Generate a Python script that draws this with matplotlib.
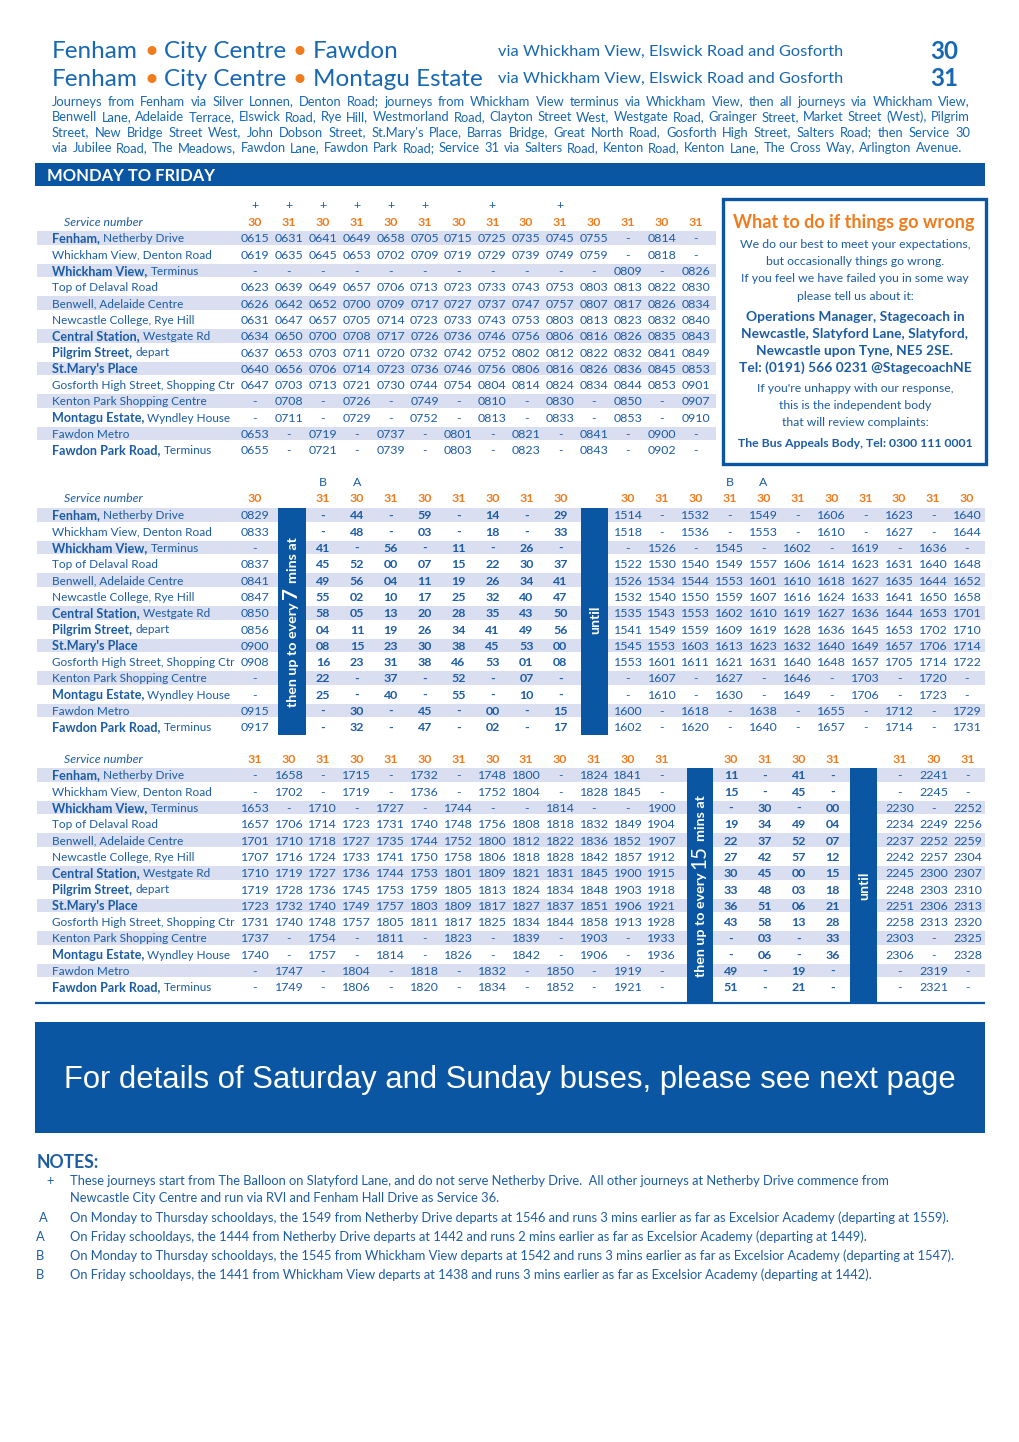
import matplotlib
matplotlib.use("Agg")
import matplotlib.pyplot as plt
from matplotlib.patches import Rectangle

FONT = "Lato"
BLUE = "#1c5ca5"
HEAD = "#1767b3"
ORANGE = "#f07c1e"
STRIPE = "#d9dff0"
BAND = "#0b56a2"

# ---------------- data ----------------
stops = [
    ("Fenham,", "Netherby Drive"),
    ("", "Whickham View, Denton Road"),
    ("Whickham View,", "Terminus"),
    ("", "Top of Delaval Road"),
    ("", "Benwell, Adelaide Centre"),
    ("", "Newcastle College, Rye Hill"),
    ("Central Station,", "Westgate Rd"),
    ("Pilgrim Street,", "depart"),
    ("St.Mary's Place", ""),
    ("", "Gosforth High Street, Shopping Ctr"),
    ("", "Kenton Park Shopping Centre"),
    ("Montagu Estate,", "Wyndley House"),
    ("", "Fawdon Metro"),
    ("Fawdon Park Road,", "Terminus"),
]

t1_services = [30, 31, 30, 31, 30, 31, 30, 31, 30, 31, 30, 31, 30, 31]
t1_marks = ["+", "+", "+", "+", "+", "+", "", "+", "", "+", "", "", "", ""]
t1_times = [
    "0615 0631 0641 0649 0658 0705 0715 0725 0735 0745 0755 - 0814 -",
    "0619 0635 0645 0653 0702 0709 0719 0729 0739 0749 0759 - 0818 -",
    "- - - - - - - - - - - 0809 - 0826",
    "0623 0639 0649 0657 0706 0713 0723 0733 0743 0753 0803 0813 0822 0830",
    "0626 0642 0652 0700 0709 0717 0727 0737 0747 0757 0807 0817 0826 0834",
    "0631 0647 0657 0705 0714 0723 0733 0743 0753 0803 0813 0823 0832 0840",
    "0634 0650 0700 0708 0717 0726 0736 0746 0756 0806 0816 0826 0835 0843",
    "0637 0653 0703 0711 0720 0732 0742 0752 0802 0812 0822 0832 0841 0849",
    "0640 0656 0706 0714 0723 0736 0746 0756 0806 0816 0826 0836 0845 0853",
    "0647 0703 0713 0721 0730 0744 0754 0804 0814 0824 0834 0844 0853 0901",
    "- 0708 - 0726 - 0749 - 0810 - 0830 - 0850 - 0907",
    "- 0711 - 0729 - 0752 - 0813 - 0833 - 0853 - 0910",
    "0653 - 0719 - 0737 - 0801 - 0821 - 0841 - 0900 -",
    "0655 - 0721 - 0739 - 0803 - 0823 - 0843 - 0902 -",
]

t2_services_a = [30]
t2_times_a = ["0829", "0833", "-", "0837", "0841", "0847", "0850",
              "0856", "0900", "0908", "-", "-", "0915", "0917"]
t2_services_b = [31, 30, 31, 30, 31, 30, 31, 30]
t2_marks_b = ["B", "A", "", "", "", "", "", ""]
t2_mins = [
    "- 44 - 59 - 14 - 29",
    "- 48 - 03 - 18 - 33",
    "41 - 56 - 11 - 26 -",
    "45 52 00 07 15 22 30 37",
    "49 56 04 11 19 26 34 41",
    "55 02 10 17 25 32 40 47",
    "58 05 13 20 28 35 43 50",
    "04 11 19 26 34 41 49 56",
    "08 15 23 30 38 45 53 00",
    "16 23 31 38 46 53 01 08",
    "22 - 37 - 52 - 07 -",
    "25 - 40 - 55 - 10 -",
    "- 30 - 45 - 00 - 15",
    "- 32 - 47 - 02 - 17",
]
t2_services_c = [30, 31, 30, 31, 30, 31, 30, 31, 30, 31, 30]
t2_marks_c = ["", "", "", "B", "A", "", "", "", "", "", ""]
t2_times_c = [
    "1514 - 1532 - 1549 - 1606 - 1623 - 1640",
    "1518 - 1536 - 1553 - 1610 - 1627 - 1644",
    "- 1526 - 1545 - 1602 - 1619 - 1636 -",
    "1522 1530 1540 1549 1557 1606 1614 1623 1631 1640 1648",
    "1526 1534 1544 1553 1601 1610 1618 1627 1635 1644 1652",
    "1532 1540 1550 1559 1607 1616 1624 1633 1641 1650 1658",
    "1535 1543 1553 1602 1610 1619 1627 1636 1644 1653 1701",
    "1541 1549 1559 1609 1619 1628 1636 1645 1653 1702 1710",
    "1545 1553 1603 1613 1623 1632 1640 1649 1657 1706 1714",
    "1553 1601 1611 1621 1631 1640 1648 1657 1705 1714 1722",
    "- 1607 - 1627 - 1646 - 1703 - 1720 -",
    "- 1610 - 1630 - 1649 - 1706 - 1723 -",
    "1600 - 1618 - 1638 - 1655 - 1712 - 1729",
    "1602 - 1620 - 1640 - 1657 - 1714 - 1731",
]

t3_services_a = [31, 30, 31, 30, 31, 30, 31, 30, 31, 30, 31, 30, 31]
t3_times_a = [
    "- 1658 - 1715 - 1732 - 1748 1800 - 1824 1841 -",
    "- 1702 - 1719 - 1736 - 1752 1804 - 1828 1845 -",
    "1653 - 1710 - 1727 - 1744 - - 1814 - - 1900",
    "1657 1706 1714 1723 1731 1740 1748 1756 1808 1818 1832 1849 1904",
    "1701 1710 1718 1727 1735 1744 1752 1800 1812 1822 1836 1852 1907",
    "1707 1716 1724 1733 1741 1750 1758 1806 1818 1828 1842 1857 1912",
    "1710 1719 1727 1736 1744 1753 1801 1809 1821 1831 1845 1900 1915",
    "1719 1728 1736 1745 1753 1759 1805 1813 1824 1834 1848 1903 1918",
    "1723 1732 1740 1749 1757 1803 1809 1817 1827 1837 1851 1906 1921",
    "1731 1740 1748 1757 1805 1811 1817 1825 1834 1844 1858 1913 1928",
    "1737 - 1754 - 1811 - 1823 - 1839 - 1903 - 1933",
    "1740 - 1757 - 1814 - 1826 - 1842 - 1906 - 1936",
    "- 1747 - 1804 - 1818 - 1832 - 1850 - 1919 -",
    "- 1749 - 1806 - 1820 - 1834 - 1852 - 1921 -",
]
t3_services_b = [30, 31, 30, 31]
t3_mins = [
    "11 - 41 -", "15 - 45 -", "- 30 - 00", "19 34 49 04", "22 37 52 07",
    "27 42 57 12", "30 45 00 15", "33 48 03 18", "36 51 06 21", "43 58 13 28",
    "- 03 - 33", "- 06 - 36", "49 - 19 -", "51 - 21 -",
]
t3_services_c = [31, 30, 31]
t3_times_c = [
    "- 2241 -", "- 2245 -", "2230 - 2252", "2234 2249 2256", "2237 2252 2259",
    "2242 2257 2304", "2245 2300 2307", "2248 2303 2310", "2251 2306 2313",
    "2258 2313 2320", "2303 - 2325", "2306 - 2328", "- 2319 -", "- 2321 -",
]

intro = [
    "Journeys from Fenham via Silver Lonnen, Denton Road; journeys from Whickham View terminus via Whickham View, then all journeys via Whickham View,",
    "Benwell Lane, Adelaide Terrace, Elswick Road, Rye Hill, Westmorland Road, Clayton Street West, Westgate Road, Grainger Street, Market Street (West), Pilgrim",
    "Street, New Bridge Street West, John Dobson Street, St.Mary's Place, Barras Bridge, Great North Road, Gosforth High Street, Salters Road; then Service 30",
    "via Jubilee Road, The Meadows, Fawdon Lane, Fawdon Park Road; Service 31 via Salters Road, Kenton Road, Kenton Lane, The Cross Way, Arlington Avenue.",
]

box_lines = [
    ("We do our best to meet your expectations,", "normal"),
    ("but occasionally things go wrong.", "normal"),
    ("If you feel we have failed you in some way", "normal"),
    ("please tell us about it:", "normal"),
    ("Operations Manager, Stagecoach in", "bold"),
    ("Newcastle, Slatyford Lane, Slatyford,", "bold"),
    ("Newcastle upon Tyne, NE5 2SE.", "bold"),
    ("Tel: (0191) 566 0231 @StagecoachNE", "bold"),
    ("If you're unhappy with our response,", "normal"),
    ("this is the independent body", "normal"),
    ("that will review complaints:", "normal"),
    ("The Bus Appeals Body, Tel: 0300 111 0001", "bold"),
]

notes = [
    ("+", "These journeys start from The Balloon on Slatyford Lane, and do not serve Netherby Drive.  All other journeys at Netherby Drive commence from"),
    ("", "Newcastle City Centre and run via RVI and Fenham Hall Drive as Service 36."),
    ("A", "On Monday to Thursday schooldays, the 1549 from Netherby Drive departs at 1546 and runs 3 mins earlier as far as Excelsior Academy (departing at 1559)."),
    ("A", "On Friday schooldays, the 1444 from Netherby Drive departs at 1442 and runs 2 mins earlier as far as Excelsior Academy (departing at 1449)."),
    ("B", "On Monday to Thursday schooldays, the 1545 from Whickham View departs at 1542 and runs 3 mins earlier as far as Excelsior Academy (departing at 1547)."),
    ("B", "On Friday schooldays, the 1441 from Whickham View departs at 1438 and runs 3 mins earlier as far as Excelsior Academy (departing at 1442)."),
]

# ---------------- figure ----------------
fig = plt.figure(figsize=(10.2, 14.42), dpi=100)
ax = fig.add_axes([0, 0, 1, 1])
ax.set_xlim(0, 1020)
ax.set_ylim(1442, 0)
ax.axis("off")
R = fig.canvas.get_renderer()


def tw(s, size, weight="normal", style="normal", family=FONT):
    t = ax.text(0, 0, s, fontsize=size, fontweight=weight, fontstyle=style, family=family)
    w = t.get_window_extent(R).width
    t.remove()
    return w


def fit(s, width, weight="normal", style="normal", family=FONT):
    return 10.0 * width / tw(s, 10, weight, style, family)


def put(x, yc, s, size, color=BLUE, ha="left", weight="normal", style="normal", family=FONT):
    # yc = middle of the capitals
    return ax.text(x, yc + 0.5 * size, s, fontsize=size, color=color, ha=ha, va="baseline",
                   fontweight=weight, fontstyle=style, family=family)


def space(size, weight="normal"):
    return tw("a a", size, weight) - tw("aa", size, weight)


# title
def title_parts(last):
    return [("Fenham", HEAD), ("\u2022", ORANGE), ("City Centre", HEAD), ("\u2022", ORANGE), (last, HEAD)]


def run_width(parts, size):
    return sum(tw(s, size) for s, _ in parts) + space(size) * (len(parts) - 1)


ts = 10.0 * 431 / run_width(title_parts("Montagu Estate"), 10)
for yc, last in [(49, "Fawdon"), (77, "Montagu Estate")]:
    x = 52
    for s, c in title_parts(last):
        put(x, yc, s, ts, color=c)
        x += tw(s, ts) + space(ts)
vs = fit("via Whickham View, Elswick Road and Gosforth", 345)
ns = fit("30", 28, "bold")
for yc, num in [(50, "30"), (77, "31")]:
    put(498, yc, "via Whickham View, Elswick Road and Gosforth", vs, color=HEAD)
    put(944, yc, num, ns, color=HEAD, ha="center", weight="bold")

# intro paragraph, justified
isz = min(fit(l, 918) for l in intro[:3]) * 0.98
for k, line in enumerate(intro):
    x0, x1 = 52, (970 if k < 3 else 962)
    words = line.split()
    ws = [tw(w, isz) for w in words]
    gap = (x1 - x0 - sum(ws)) / (len(words) - 1)
    x = x0
    for w, wd in zip(words, ws):
        put(x, 101 + 15.5 * k, w, isz, color=HEAD)
        x += wd + gap

# day band
ax.bar(510, 23, width=950, bottom=163, color=BAND, zorder=1)
put(47, 175, "MONDAY TO FRIDAY", fit("MONDAY TO FRIDAY", 176, "bold") * 0.95, color="white", weight="bold")

NUM = fit("0615", 29)
SVC = NUM
STOP = fit("Gosforth High Street, Shopping Ctr", 182)
STOPB = STOP * 1.07
LAB = fit("Service number", 78, style="italic")
ROW = 16.3
STEP = 33.9


def draw_table(y_svc, y0, blocks, x_right, mark_y=None):
    rows = [y0 + ROW * i for i in range(14)]
    ax.barh(rows[::2], x_right - 37, left=37, height=13.5, color=STRIPE, zorder=0)
    put(64, y_svc, "Service number", LAB, style="italic")
    sp = space(STOP)
    for i, (b, r) in enumerate(stops):
        x = 52
        if b:
            put(x, rows[i], b, STOPB, weight="bold")
            x += tw(b, STOPB, "bold") + sp
        if r:
            put(x, rows[i], r, STOP)
    for x0, svcs, cells, marks, bold in blocks:
        for j, sv in enumerate(svcs):
            x = x0 + STEP * j
            put(x, y_svc, str(sv), SVC, color=ORANGE, ha="center", weight="bold")
            if marks and marks[j]:
                put(x, mark_y, marks[j], SVC, ha="center")
            for i, row in enumerate(cells):
                put(x, rows[i], row.split()[j], NUM, ha="center",
                    weight="bold" if bold else "normal")


def band(x0, x1, y0, y1, parts, yc):
    ax.bar((x0 + x1) / 2, y1 - y0, width=x1 - x0, bottom=y0, color=BAND, zorder=2)
    xc = (x0 + x1) / 2
    lens = [tw(s, sz, w) for s, sz, w in parts]
    sp = space(parts[0][1], "bold")
    total = sum(lens) + sp * (len(parts) - 1)
    y = yc + total / 2
    base = xc + 0.5 * parts[0][1]
    for (s, sz, w), L in zip(parts, lens):
        ax.text(base, y, s, rotation=90, rotation_mode="anchor", ha="left", va="baseline",
                fontsize=sz, fontweight=w, color="white", family=FONT, zorder=3)
        y -= L + sp


# table 1
draw_table(222, 238, [(255, t1_services, t1_times, t1_marks, False)], 716, mark_y=205)

# table 2
draw_table(498, 515, [
    (255, t2_services_a, t2_times_a, None, False),
    (323, t2_services_b, t2_mins, t2_marks_b, True),
    (628, t2_services_c, t2_times_c, t2_marks_c, False),
], 985, mark_y=482)
BT = fit("then up to every", 105, "bold")
band(278, 306, 508, 735, [("then up to every", BT, "bold"), ("7", BT * 1.45, "bold"),
                          ("mins at", BT, "bold")], 622)
band(581, 608, 508, 735, [("until", BT, "bold")], 620)

# table 3
draw_table(759, 775, [
    (255, t3_services_a, t3_times_a, None, False),
    (731, t3_services_b, t3_mins, None, True),
    (900, t3_services_c, t3_times_c, None, False),
], 985)
band(687, 713, 768, 1002, [("then up to every", BT, "bold"), ("15", BT * 1.45, "normal"),
                           ("mins at", BT, "bold")], 886)
band(850, 877, 768, 1002, [("until", BT, "bold")], 886)
ax.hlines(1003, 35, 985, color=BAND, lw=1.6, zorder=2)

# complaints box
ax.add_patch(Rectangle((723, 199), 263, 265, fill=False, ec=BAND, lw=2.4, zorder=3))
put(854, 221, "What to do if things go wrong",
    fit("What to do if things go wrong", 242, "bold"), color=ORANGE, ha="center", weight="bold")
rs = fit("We do our best to meet your expectations,", 231)
bs = fit("Tel: (0191) 566 0231 @StagecoachNE", 232, "bold")
box_y = [244, 261, 278, 296, 316, 333, 350, 367, 388, 405, 422, 443]
for (s, w), yc in zip(box_lines, box_y):
    size = rs if w == "normal" else min(bs, fit(s, 236, "bold"))
    put(855, yc, s, size, ha="center", weight=w)

# saturday/sunday box
ax.bar(510, 111, width=950, bottom=1022, color=BAND, zorder=1)
msg = "For details of Saturday and Sunday buses, please see next page"
put(64, 1077, msg, fit(msg, 893, family="Liberation Sans"), color="white", family="Liberation Sans")

# notes
put(37, 1162, "NOTES:", fit("NOTES:", 63, "bold"), weight="bold")
nsz = fit(notes[2][1], 886)
mark_x = [50, 0, 43, 40, 40, 40]
for (m, s), yc, mx in zip(notes, [1180, 1197, 1217, 1236, 1255, 1274], mark_x):
    if m:
        put(mx, yc, m, nsz, ha="center")
    put(70, yc, s, nsz)

fig.savefig("out.png", dpi=100)
